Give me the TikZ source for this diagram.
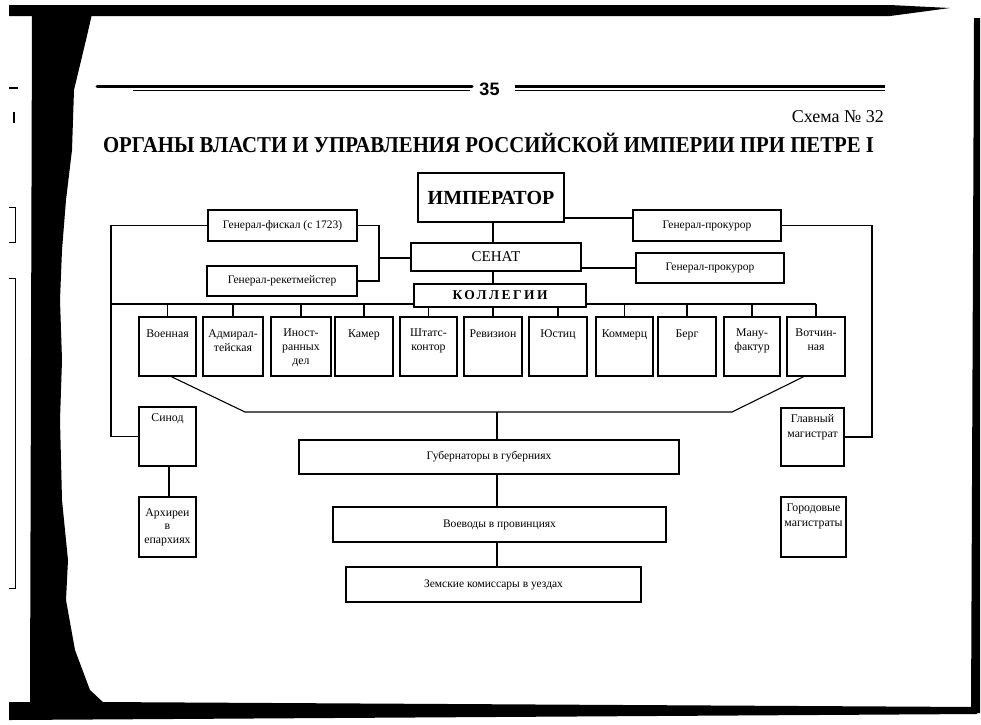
\documentclass[tikz,border=0pt]{standalone}
\usepackage{fontspec}
\usepackage{graphicx}
\setmainfont{Liberation Serif}
\newfontfamily\sansb{Liberation Sans}
\newfontfamily\spaced[LetterSpace=18]{Liberation Serif}
\tikzset{
  box/.style={draw, line width=1.1pt, fill=white, inner sep=0pt, outer sep=0pt,
    align=center, font=\fontsize{11.5}{14}\selectfont},
  colbox/.style={box, minimum height=59pt},
  lab/.style={anchor=north, inner sep=0pt, align=center,
    execute at begin node={\rule{0pt}{8.5pt}},
    font=\fontsize{11.8}{14}\selectfont},
  conn/.style={line width=1.1pt},
  scan/.style={fill=black}
}
\begin{document}
\begin{tikzpicture}[x=1pt,y=-1pt]
\path[use as bounding box, fill=white] (0,0) rectangle (981,724);

% scan edges
\fill[scan] (9,5) -- (890,5) -- (950,8) -- (890,16) -- (9,16) -- cycle;
\fill[scan] (32,14) -- (92,14) -- (86,40) -- (74,90) -- (72,150) -- (66,200) -- (62,250) -- (60,300) -- (62,360) -- (60,420) -- (62,500) -- (68,560) -- (66,600) -- (75,650) -- (90,690) -- (105,704) -- (30,704) -- cycle;
\fill[scan] (9,702) -- (100,702) -- (977,707) -- (977,714) -- (9,720) -- cycle;
\fill[scan] (974,18) -- (980,18) -- (980,713) -- (971,713) -- cycle;
\draw[line width=2pt] (9,88) -- (18,88);
\draw[line width=1.5pt] (14,112) -- (14,123);
\draw[line width=1pt] (9,207) -- (15,207) -- (15,242) -- (9,242);
\draw[line width=1pt] (9,278) -- (15,278) -- (15,588) -- (9,588);

% header
\draw[line width=3pt, line cap=round] (97,86) -- (472,86);
\draw[line width=0.8pt] (133,90) -- (470,90);
\draw[line width=3pt] (515,86) -- (885,86);
\draw[line width=0.8pt] (515,90) -- (885,90);
\node[anchor=base, inner sep=0pt, font=\sansb\bfseries\fontsize{18}{20}\selectfont] (pg) at (489.5,95) {35};
\node[anchor=base east, inner sep=0pt, font=\fontsize{18}{20}\selectfont] (schema) at (884,122) {Схема №~32};
\node[anchor=base, inner sep=0pt] (title) at (488.5,152)
  {\resizebox{771pt}{\height}{\bfseries\fontsize{22.7}{24}\selectfont ОРГАНЫ ВЛАСТИ И УПРАВЛЕНИЯ РОССИЙСКОЙ ИМПЕРИИ ПРИ ПЕТРЕ I}};

% bend coordinates
\coordinate (xm) at (493,0);
\coordinate (xf) at (379,0);
\coordinate (xl) at (111,0);
\coordinate (xr) at (872,0);
\coordinate (yb) at (0,304);
\coordinate (ye) at (0,218);
\coordinate (ys) at (0,258);
\coordinate (xg) at (497,0);
\coordinate (dl) at (245,412);
\coordinate (dr) at (732,412);
\coordinate (xs) at (169,0);
\coordinate (xd1) at (170,0);
\coordinate (xd2) at (805,0);

\node[box, minimum width=146pt, minimum height=49pt, line width=2.5pt,
  font=\bfseries\fontsize{20}{22}\selectfont] (emp) at (491,197.5) {ИМПЕРАТОР};
\node[box, minimum width=170pt, minimum height=28pt, line width=2.5pt,
  font=\fontsize{15}{17}\selectfont] (sen) at (496,257) {СЕНАТ};
\node[box, minimum width=149pt, minimum height=31pt] (gf) at (282.5,225.5) {Генерал-фискал (с 1723)};
\node[box, minimum width=150pt, minimum height=30pt] (gr) at (282,281) {Генерал-рекетмейстер};
\node[box, minimum width=148pt, minimum height=31pt] (gp1) at (707,225.5) {Генерал-прокурор};
\node[box, minimum width=148pt, minimum height=30pt] (gp2) at (710,268) {Генерал-прокурор};

% colleges
\node[colbox, minimum width=57pt, label={[lab,yshift=-12pt]north:Военная}] (c1) at (167.5,346.5) {};
\node[colbox, minimum width=60pt, label={[lab,yshift=-12pt]north:{Адмирал-\\тейская}}] (c2) at (233,346.5) {};
\node[colbox, minimum width=60pt, label={[lab,yshift=-12pt]north:{Иност-\\ранных\\дел}}] (c3) at (301,346.5) {};
\node[colbox, minimum width=58pt, label={[lab,yshift=-12pt]north:Камер}] (c4) at (364,346.5) {};
\node[colbox, minimum width=57pt, label={[lab,yshift=-12pt]north:{Штатс-\\контор}}] (c5) at (428.5,346.5) {};
\node[colbox, minimum width=58pt, label={[lab,yshift=-12pt]north:Ревизион}] (c6) at (493,346.5) {};
\node[colbox, minimum width=58pt, label={[lab,yshift=-12pt]north:Юстиц}] (c7) at (558,346.5) {};
\node[colbox, minimum width=57pt, label={[lab,yshift=-12pt]north:Коммерц}] (c8) at (624.5,346.5) {};
\node[colbox, minimum width=58pt, label={[lab,yshift=-12pt]north:Берг}] (c9) at (687,346.5) {};
\node[colbox, minimum width=56pt, label={[lab,yshift=-12pt]north:{Ману-\\фактур}}] (c10) at (752,346.5) {};
\node[colbox, minimum width=58pt, label={[lab,yshift=-12pt]north:{Вотчин-\\ная}}] (c11) at (816,346.5) {};

% lower boxes
\node[colbox, minimum width=57pt, label={[lab,yshift=-6pt]north:Синод}] (syn) at (167.5,436.5) {};
\node[box, minimum width=57pt, minimum height=60pt, font=\fontsize{11.8}{13.5}\selectfont] (arch) at (167.5,527) {Архиреи\\в\\епархиях};
\node[box, minimum width=63pt, minimum height=58pt, label={[lab,yshift=-6pt,font=\fontsize{11.8}{15}\selectfont]north:{Главный\\магистрат}}] (gm) at (812.5,437) {};
\node[box, minimum width=65pt, minimum height=60pt, label={[lab,yshift=-7pt,font=\fontsize{11.8}{15}\selectfont]north:{Городовые\\магистраты}}] (gorm) at (813.5,527) {};
\node[box, minimum width=380pt, minimum height=34pt] (gub) at (489,457) {Губернаторы в губерниях};
\node[box, minimum width=333pt, minimum height=35pt] (voe) at (499.5,524.5) {Воеводы в провинциях};
\node[box, minimum width=295pt, minimum height=35pt] (zem) at (493.5,584.5) {Земские комиссары в уездах};

% connectors
\draw[conn] (emp.south -| xm) -- (sen.north -| xm);
\draw[conn] (emp.east |- ye) -- (gp1.west |- ye);
\draw[conn] (sen.east |- gp2) -- (gp2.west);
\draw[conn] (gf.east) -- (gf.east -| xf) -- (gr.east -| xf) -- (gr.east);
\draw[conn] (xf |- ys) -- (sen.west |- ys);
\draw[conn] (gp1.east) -- (gp1.east -| xr) -- (gm.east -| xr) -- (gm.east);
\draw[conn] (gf.west) -- (gf.west -| xl) -- (syn.west -| xl) -- (syn.west);
\draw[conn] (xl |- yb) -- (c11.north |- yb);
\foreach \c in {c1,c2,c3,c4,c5,c6,c7,c8,c9,c10,c11}
  \draw[conn] (\c.north |- yb) -- (\c.north);
\draw[conn] (c1.south -| xd1) -- (dl) -- (dr) -- (c11.south -| xd2);
\draw[conn] (xg |- dl) -- (gub.north -| xg);
\draw[conn] (gub.south -| xg) -- (voe.north -| xg);
\draw[conn] (voe.south -| xg) -- (zem.north -| xg);
\draw[conn] (syn.south -| xs) -- (arch.north -| xs);

% senate to kollegii and the box itself (covers the bus)
\draw[conn] (sen.south -| xm) -- (493,284);
\node[box, minimum width=172pt, minimum height=23pt, line width=2pt,
  font=\spaced\bfseries\fontsize{13.5}{15}\selectfont] (kol) at (500,295.5) {КОЛЛЕГИИ};
\end{tikzpicture}
\end{document}
